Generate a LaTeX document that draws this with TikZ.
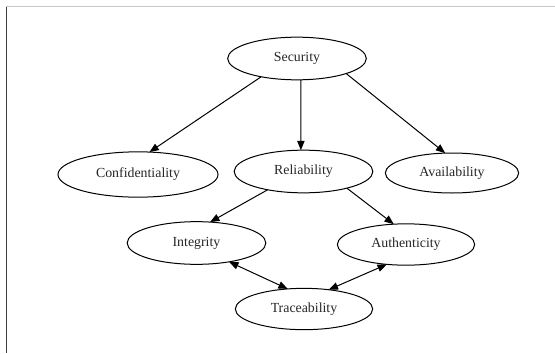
\documentclass[tikz,border=0pt]{standalone}
\usepackage{fontspec}
\setmainfont{Liberation Serif}
\usetikzlibrary{arrows.meta,shapes.geometric}

\begin{document}
\begin{tikzpicture}[x=0.75pt, y=-0.75pt, >={Triangle[length=7pt,width=5.5pt]}, line width=0.75pt,
    prop/.style={ellipse, draw, inner sep=0pt, outer sep=0pt, minimum width=104pt,
      minimum height=32pt, font=\fontsize{10.4}{12}\selectfont, text=black!85}]

  % Frame of the page
  \useasboundingbox (0,0) rectangle (555,353);
  \draw[black!22] (6,7) -- (555,7);
  \draw[black!75] (6.5,7) -- (6.5,353);

  % Top node
  \node[prop] (sec) at (297,58.5) {Security};

  % Second row
  \node[prop, minimum width=120pt, minimum height=34pt] (conf) at (138,174.5) {Confidentiality};
  \node[prop] (rel) at (303.5,171.5) {Reliability};
  \node[prop, minimum width=100pt, minimum height=30pt] (avail) at (452,173) {Availability};

  % Third row
  \node[prop] (integ) at (196.5,243) {Integrity};
  \node[prop, minimum width=103pt, minimum height=31pt] (auth) at (406,244.5) {Authenticity};

  % Bottom node
  \node[prop, minimum width=103pt, minimum height=31pt] (trace) at (304,309) {Traceability};

  % Arrows out of Security
  \draw[->] (sec.207) -- (conf.63);
  \draw[->] (sec.280) -- (rel.97);
  \draw[->] (sec.343) -- (avail.109);

  % Arrows out of Reliability
  \draw[->] (rel.207) -- (integ.57);
  \draw[->] (rel.339) -- (auth.121);

  % Both ways with Traceability
  \draw[<->] (integ.330) -- (trace.129);
  \draw[<->] (auth.226) -- (trace.38);

\end{tikzpicture}
\end{document}
